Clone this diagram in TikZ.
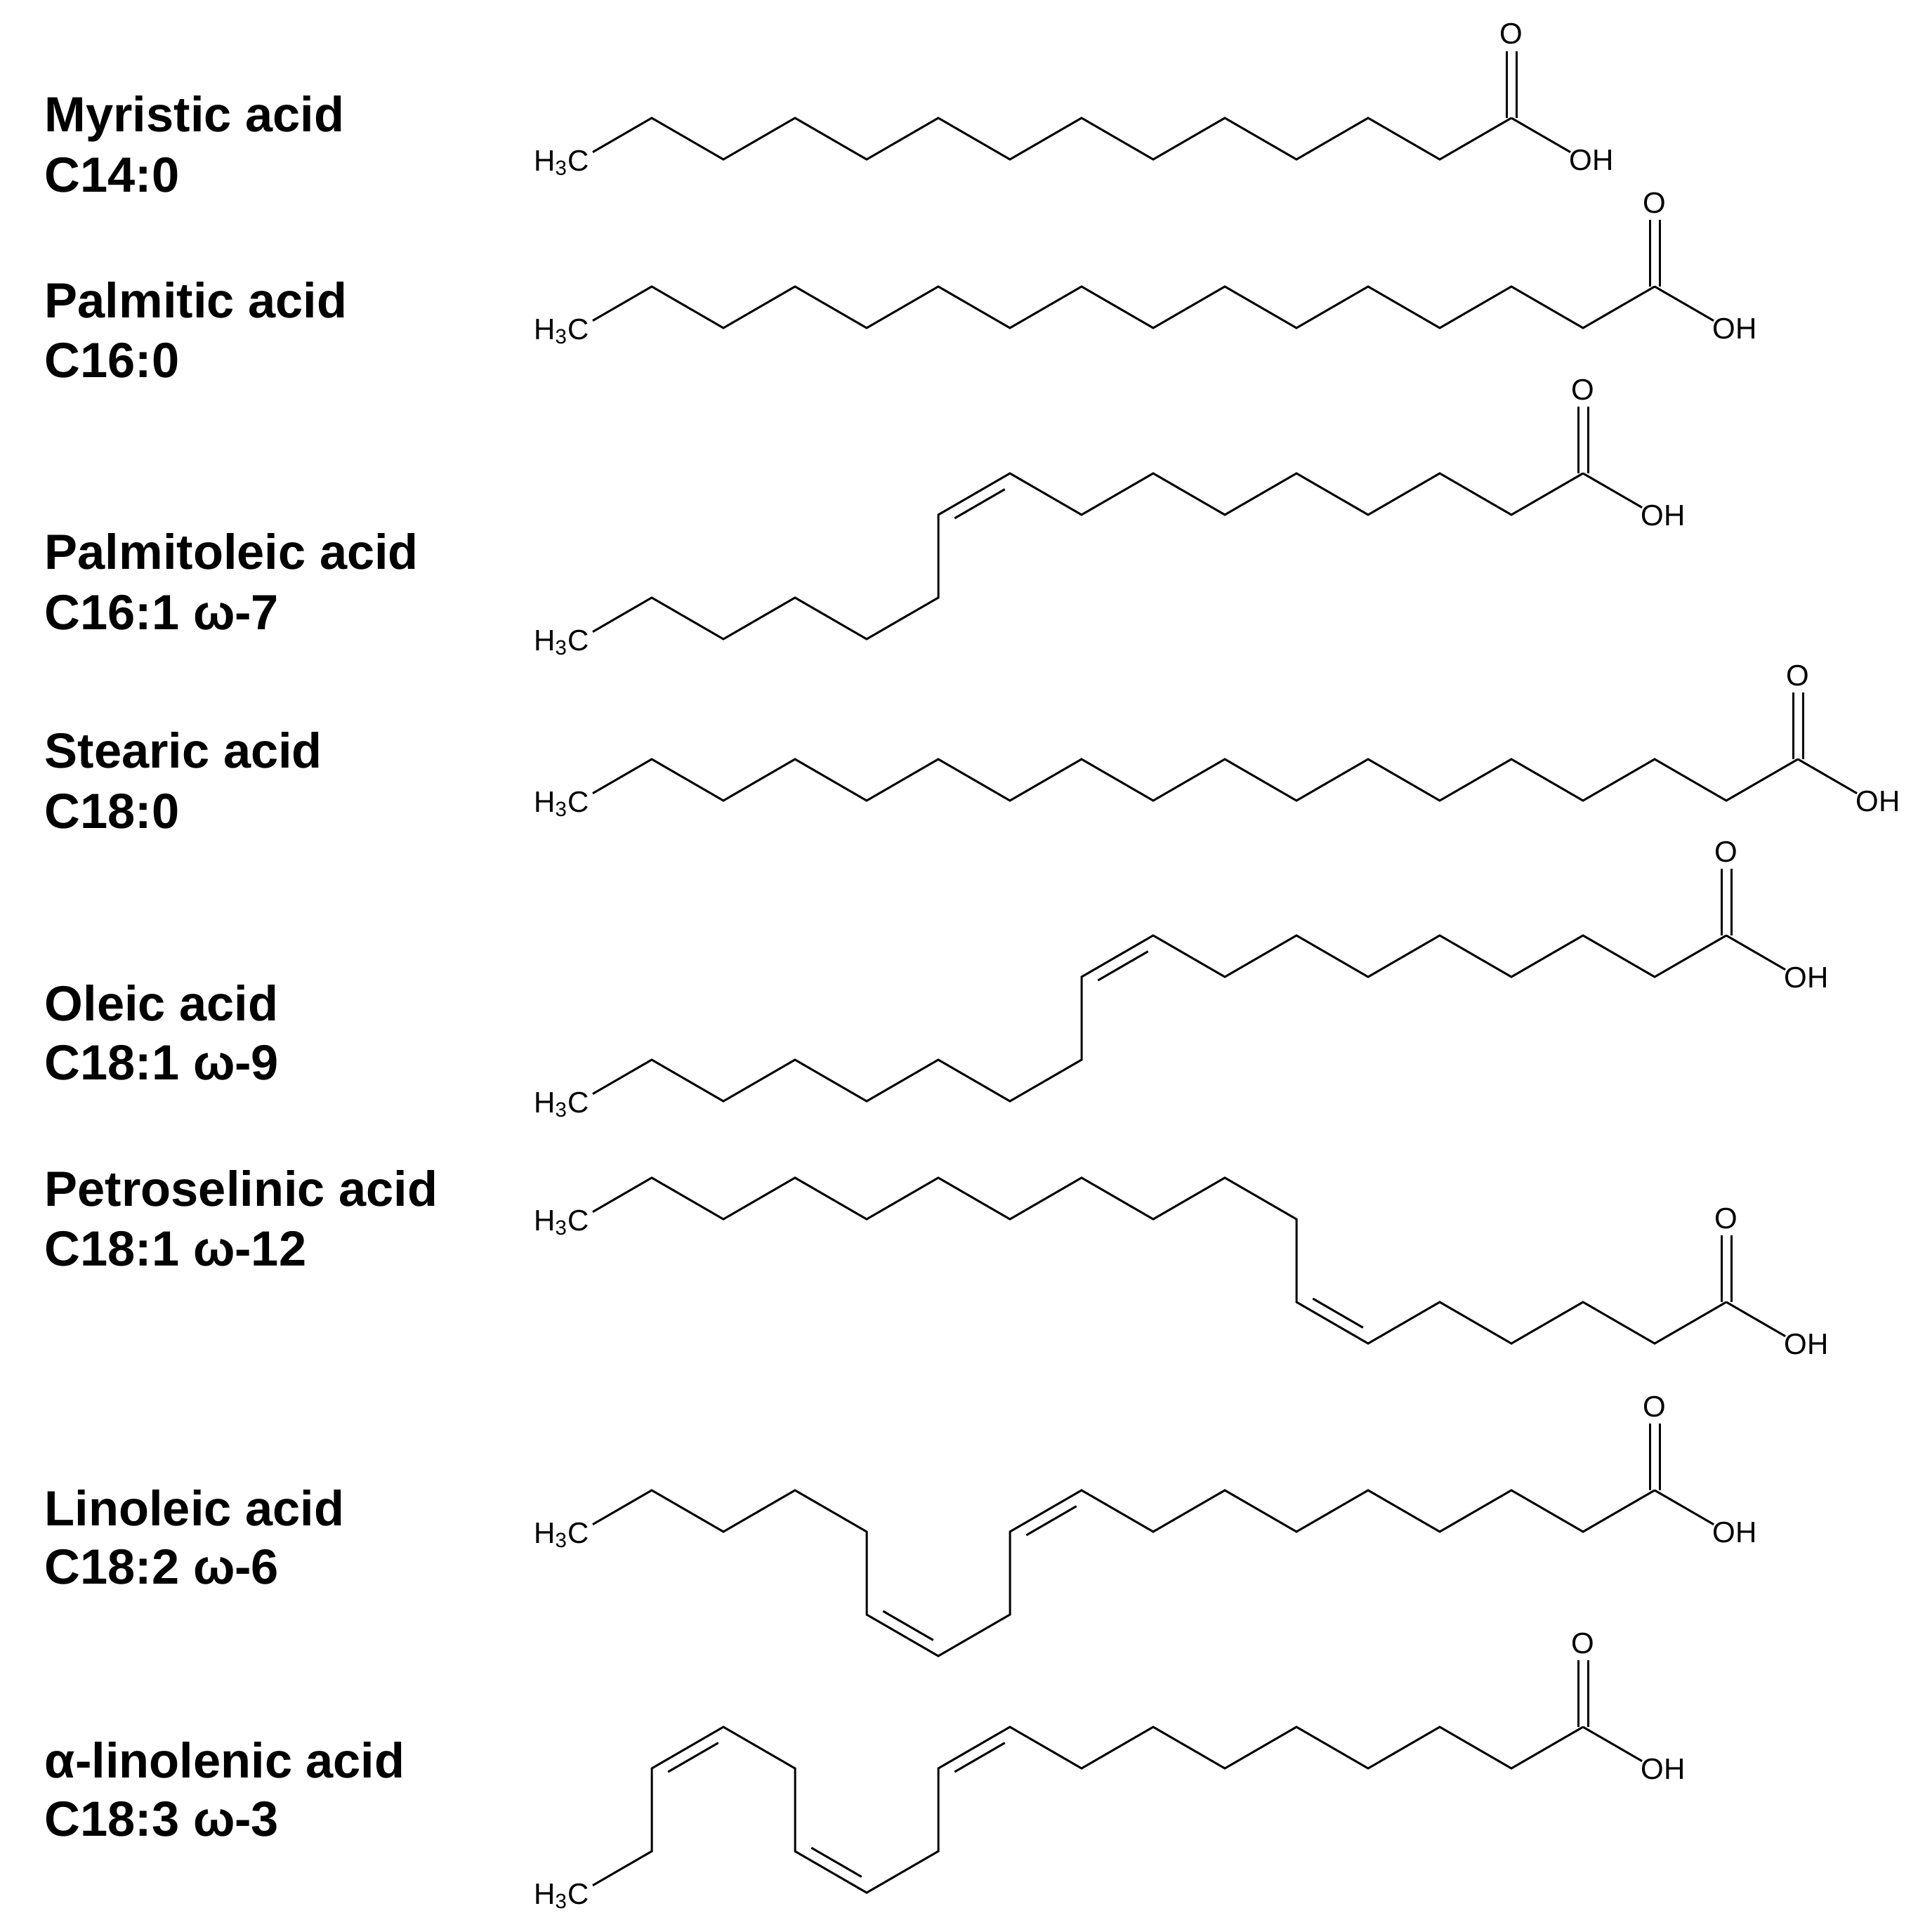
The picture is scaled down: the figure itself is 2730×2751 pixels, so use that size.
\documentclass[tikz,border=0pt]{standalone}
\usepackage{fontspec}
\setmainfont{Liberation Sans}
\usetikzlibrary{calc}
\def\bU{-- ++(102,-59)}
\def\bD{-- ++(102,59)}
\def\bVu{-- ++(0,-118)}
\def\bVd{-- ++(0,118)}
\def\bFirst{++(18,-10.4) -- ++(84,-48.6)}
\newcommand\mydbl[4]{\draw[bond] ($(#1)!0.15!(#2)+(#3,#4)$) -- ($(#1)!0.85!(#2)+(#3,#4)$);}
\newcommand\mycooh[2]{%
  \draw[bond] ($(#1)+(-7,0)$) -- ++(0,-95);
  \draw[bond] ($(#1)+(7,0)$) -- ++(0,-95);
  \node[atom,anchor=base] (#2o) at ($(#1)+(0,-105)$) {O};
  \draw[bond] (#1) -- ++(84,48.6);
  \node[atom,anchor=base west] (#2oh) at ($(#1)+(82,74)$) {OH};}
\newcommand\myhtc[2]{\node[atom,anchor=base east] (#2) at ($(#1)+(14,16)$) {H\textsubscript{3}C};}
\begin{document}
\begin{tikzpicture}[x=0.25pt,y=-0.25pt,
  bond/.style={line width=0.75pt,line join=miter,line cap=butt},
  atom/.style={inner sep=0pt,font=\fontsize{10.5}{12}\selectfont},
  lbl/.style={inner sep=0pt,anchor=base west,font=\fontsize{17.6}{20}\selectfont\bfseries}]
\useasboundingbox (0,0) rectangle (2730,2751);
% labels
\node[lbl] (n1a) at (63,188) {Myristic acid};
\node[lbl] (n1b) at (63,273) {C14:0};
\node[lbl] (n2a) at (63,452) {Palmitic acid};
\node[lbl] (n2b) at (63,537) {C16:0};
\node[lbl] (n3a) at (63,810) {Palmitoleic acid};
\node[lbl] (n3b) at (63,896) {C16:1 ω-7};
\node[lbl] (n4a) at (63,1093) {Stearic acid};
\node[lbl] (n4b) at (63,1179) {C18:0};
\node[lbl] (n5a) at (63,1453) {Oleic acid};
\node[lbl] (n5b) at (63,1537) {C18:1 ω-9};
\node[lbl] (n6a) at (63,1717) {Petroselinic acid};
\node[lbl] (n6b) at (63,1802) {C18:1 ω-12};
\node[lbl] (n7a) at (63,2172) {Linoleic acid};
\node[lbl] (n7b) at (63,2255) {C18:2 ω-6};
\node[lbl] (n8a) at (63,2531) {α-linolenic acid};
\node[lbl] (n8b) at (63,2614) {C18:3 ω-3};
% 1 myristic
\coordinate (s1) at (826,227);
\myhtc{s1}{h1}
\draw[bond] (s1) \bFirst \bD\bU\bD\bU\bD\bU\bD\bU\bD\bU\bD\bU coordinate (k1);
\mycooh{k1}{m1}
% 2 palmitic
\coordinate (s2) at (826,467);
\myhtc{s2}{h2}
\draw[bond] (s2) \bFirst \bD\bU\bD\bU\bD\bU\bD\bU\bD\bU\bD\bU\bD\bU coordinate (k2);
\mycooh{k2}{m2}
% 3 palmitoleic
\coordinate (s3) at (826,910);
\myhtc{s3}{h3}
\draw[bond] (s3) \bFirst \bD\bU\bD\bU \bVu coordinate (a3) \bU coordinate (b3)
  \bD\bU\bD\bU\bD\bU\bD\bU coordinate (k3);
\mydbl{a3}{b3}{8}{13.8}
\mycooh{k3}{m3}
% 4 stearic
\coordinate (s4) at (826,1140);
\myhtc{s4}{h4}
\draw[bond] (s4) \bFirst \bD\bU\bD\bU\bD\bU\bD\bU\bD\bU\bD\bU\bD\bU\bD\bU coordinate (k4);
\mycooh{k4}{m4}
% 5 oleic
\coordinate (s5) at (826,1568);
\myhtc{s5}{h5}
\draw[bond] (s5) \bFirst \bD\bU\bD\bU\bD\bU \bVu coordinate (a5) \bU coordinate (b5)
  \bD\bU\bD\bU\bD\bU\bD\bU coordinate (k5);
\mydbl{a5}{b5}{8}{13.8}
\mycooh{k5}{m5}
% 6 petroselinic
\coordinate (s6) at (826,1736);
\myhtc{s6}{h6}
\draw[bond] (s6) \bFirst \bD\bU\bD\bU\bD\bU\bD\bU\bD \bVd coordinate (a6) \bD coordinate (b6)
  \bU\bD\bU\bD\bU coordinate (k6);
\mydbl{a6}{b6}{8}{-13.8}
\mycooh{k6}{m6}
% 7 linoleic
\coordinate (s7) at (826,2181);
\myhtc{s7}{h7}
\draw[bond] (s7) \bFirst \bD\bU\bD \bVd coordinate (a7) \bD coordinate (b7)
  \bU \bVu coordinate (c7) \bU coordinate (d7)
  \bD\bU\bD\bU\bD\bU\bD\bU coordinate (k7);
\mydbl{a7}{b7}{8}{-13.8}
\mydbl{c7}{d7}{8}{13.8}
\mycooh{k7}{m7}
% 8 alpha-linolenic
\coordinate (s8) at (826,2695);
\myhtc{s8}{h8}
\draw[bond] (s8) \bFirst \bVu coordinate (a8) \bU coordinate (b8)
  \bD \bVd coordinate (c8) \bD coordinate (d8)
  \bU \bVu coordinate (e8) \bU coordinate (f8)
  \bD\bU\bD\bU\bD\bU\bD\bU coordinate (k8);
\mydbl{a8}{b8}{8}{13.8}
\mydbl{c8}{d8}{8}{-13.8}
\mydbl{e8}{f8}{8}{13.8}
\mycooh{k8}{m8}
\end{tikzpicture}
\end{document}
